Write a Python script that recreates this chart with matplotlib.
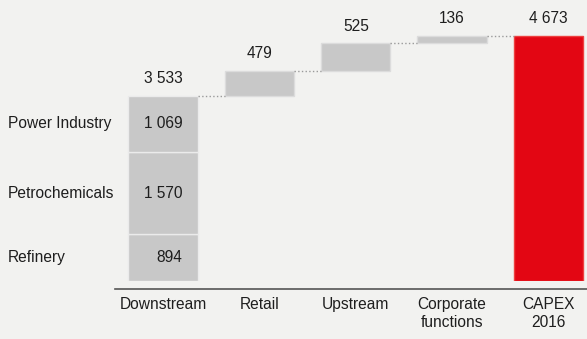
import matplotlib.pyplot as plt
import numpy as np
from matplotlib.transforms import blended_transform_factory

categories = ['Downstream', 'Retail', 'Upstream', 'Corporate\nfunctions', 'CAPEX\n2016']
increments = [3533, 479, 525, 136]
total = 4673
segment_names = ['Refinery', 'Petrochemicals', 'Power Industry']
segment_values = [894, 1570, 1069]

def fmt(v):
	return '{:,}'.format(v).replace(',', ' ')

plt.rcParams['font.family'] = ['Liberation Sans', 'DejaVu Sans']
bg = '#f2f2f0'
grey = '#c8c8c8'
red = '#e30613'
fs = 11.2
tc = '#1e1e1e'

fig = plt.figure(figsize=(5.87, 3.39), dpi=100, facecolor=bg)
ax = fig.add_axes([115/587, 58/339, 472/587, 271/339], facecolor=bg)

x = np.arange(len(categories))
w = 0.72

# downstream split into segments
bottom = 0
for name, v in zip(segment_names, segment_values):
	ax.bar(x[0], v, w, bottom=bottom, color=grey, edgecolor='#ebebeb', linewidth=1)
	ax.text(x[0] + 0.2, bottom + v/2, fmt(v), ha='right', va='center', fontsize=fs, color=tc)
	bottom += v

# floating bars
start = 0
tops = []
for i, v in enumerate(increments):
	if i > 0:
		ax.bar(x[i], v, w, bottom=start, color=grey, edgecolor='#dcdcdc', linewidth=1)
	start += v
	tops.append(start)
	ax.annotate(fmt(v), (x[i], start), xytext=(0, 7), textcoords='offset points',
		ha='center', va='bottom', fontsize=fs, color=tc)

ax.bar(x[-1], total, w, color=red, edgecolor='#ee4040', linewidth=1)
ax.annotate(fmt(total), (x[-1], total), xytext=(0, 7), textcoords='offset points',
	ha='center', va='bottom', fontsize=fs, color=tc)
tops.append(total)

# connectors
for i in range(len(categories) - 1):
	ax.plot([x[i] + w/2, x[i+1] - w/2], [tops[i], tops[i]], color='#9a9a9a',
		linestyle=':', linewidth=1)

# segment names on the left
trans = blended_transform_factory(fig.transFigure, ax.transData)
bottom = 0
for name, v in zip(segment_names, segment_values):
	ax.text(8/587, bottom + v/2, name, transform=trans, ha='left', va='center',
		fontsize=fs, color=tc)
	bottom += v

ax.set_xlim(-0.5, 4.4)
ax.set_ylim(0, 5172)
ax.set_xticks(x)
ax.set_xticklabels(categories)
ax.tick_params(axis='x', length=0, pad=6, labelsize=fs, labelcolor=tc)
ax.set_yticks([])
for s in ['top', 'right', 'left']:
	ax.spines[s].set_visible(False)
ax.spines['bottom'].set_position(('outward', 5.76))
ax.spines['bottom'].set_color('#555555')
ax.spines['bottom'].set_linewidth(1.2)

fig.savefig('out.png', dpi=100, facecolor=bg)
